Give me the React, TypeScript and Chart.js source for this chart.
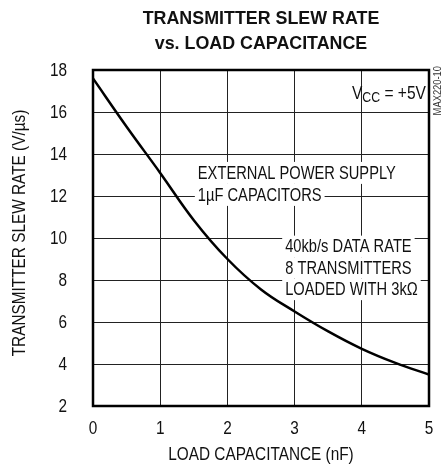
import { useEffect, useRef } from 'react';
import { Chart, registerables } from 'chart.js';

Chart.register(...registerables);

const capacitanceNF = [0, 0.5, 1, 1.5, 2, 2.5, 3, 3.5, 4, 4.5, 5];
const slewRate = [17.6, 15.3, 13.1, 10.85, 9.0, 7.55, 6.5, 5.55, 4.72, 4.05, 3.5];
const xTickValues = [0, 1, 2, 3, 4, 5];
const yTickValues = [2, 4, 6, 8, 10, 12, 14, 16, 18];
const titleLines = ['TRANSMITTER SLEW RATE', 'vs. LOAD CAPACITANCE'];
const xAxisTitle = 'LOAD CAPACITANCE (nF)';
const yAxisTitle = 'TRANSMITTER SLEW RATE (V/µs)';
const noteSupply = ['EXTERNAL POWER SUPPLY', '1µF CAPACITORS'];
const noteLoad = ['40kb/s DATA RATE', '8 TRANSMITTERS', 'LOADED WITH 3kΩ'];
const partCode = 'MAX220-10';

const FONT = "'Liberation Sans', Arial, sans-serif";
const SX = 0.83; // horizontal condensing to mimic a narrow sans face

function narrowText(
  ctx: CanvasRenderingContext2D,
  text: string,
  x: number,
  y: number,
  font: string,
  align: CanvasTextAlign,
  sx = SX,
  rotate = false,
) {
  ctx.save();
  ctx.font = font;
  ctx.textAlign = align;
  ctx.textBaseline = 'middle';
  ctx.fillStyle = '#111';
  ctx.translate(x, y);
  if (rotate) ctx.rotate(-Math.PI / 2);
  ctx.scale(sx, 1);
  ctx.fillText(text, 0, 0);
  ctx.restore();
}

function narrowWidth(ctx: CanvasRenderingContext2D, text: string, font: string, sx = SX) {
  ctx.save();
  ctx.font = font;
  const w = ctx.measureText(text).width * sx;
  ctx.restore();
  return w;
}

const textPlugin = {
  id: 'condensedText',
  afterDatasetsDraw(chart: any) {
    const { ctx, chartArea, scales } = chart;
    const xs = scales.x;
    const ys = scales.y;
    const noteFont = `17.7px ${FONT}`;

    const drawBlock = (lines: string[], xVal: number, yVal: number, gap: number) => {
      const x = xs.getPixelForValue(xVal);
      let y = ys.getPixelForValue(yVal);
      for (const line of lines) {
        const w = narrowWidth(ctx, line, noteFont);
        ctx.fillStyle = '#fff';
        ctx.fillRect(x - 3, y - gap / 2, w + 6, gap);
        narrowText(ctx, line, x, y + 1, noteFont, 'left');
        y += gap;
      }
    };
    drawBlock(noteSupply, 1.56, 13.1, 22);
    drawBlock(noteLoad, 2.86, 9.6, 21.5);

    // VCC = +5V
    const vsx = 0.88;
    const subFont = `14px ${FONT}`;
    const right = chartArea.right - 3;
    const cy = ys.getPixelForValue(16.85);
    const tail = ' = +5V';
    const tailW = narrowWidth(ctx, tail, noteFont, vsx);
    const subW = narrowWidth(ctx, 'CC', subFont, vsx);
    const vW = narrowWidth(ctx, 'V', noteFont, vsx);
    const x0 = right - tailW - subW - vW;
    narrowText(ctx, 'V', x0, cy, noteFont, 'left', vsx);
    narrowText(ctx, 'CC', x0 + vW, cy + 4, subFont, 'left', vsx);
    narrowText(ctx, tail, x0 + vW + subW, cy, noteFont, 'left', vsx);

    // plot frame
    ctx.save();
    ctx.strokeStyle = '#000';
    ctx.lineWidth = 2.5;
    ctx.strokeRect(chartArea.left, chartArea.top, chartArea.right - chartArea.left, chartArea.bottom - chartArea.top);
    ctx.restore();

    // part code, rotated
    ctx.save();
    ctx.font = `11px ${FONT}`;
    ctx.fillStyle = '#333';
    ctx.translate(chartArea.right + 9, chartArea.top - 4);
    ctx.rotate(-Math.PI / 2);
    ctx.scale(0.85, 1);
    ctx.textAlign = 'right';
    ctx.textBaseline = 'middle';
    ctx.fillText(partCode, 0, 0);
    ctx.restore();

    // tick labels from the library's scales
    const tickFont = `18.5px ${FONT}`;
    xs.ticks.forEach((t: any, i: number) => {
      narrowText(ctx, String(t.value), xs.getPixelForTick(i), chartArea.bottom + 23, tickFont, 'center');
    });
    ys.ticks.forEach((t: any, i: number) => {
      narrowText(ctx, String(t.value), chartArea.left - 26, ys.getPixelForTick(i) + 1, tickFont, 'right');
    });

    // axis titles
    narrowText(ctx, xAxisTitle, (chartArea.left + chartArea.right) / 2, 455, tickFont, 'center');
    narrowText(ctx, yAxisTitle, 20, (chartArea.top + chartArea.bottom) / 2 - 5, tickFont, 'center', SX, true);

    // chart title
    const titleFont = `bold 18.6px ${FONT}`;
    const cx = (chartArea.left + chartArea.right) / 2;
    narrowText(ctx, titleLines[0], cx, 19, titleFont, 'center', 0.96);
    narrowText(ctx, titleLines[1], cx, 44, titleFont, 'center', 0.96);
  },
};

export default function App() {
  const canvasRef = useRef<HTMLCanvasElement | null>(null);

  useEffect(() => {
    document.body.style.margin = '0';
    const canvas = canvasRef.current;
    if (!canvas) return;
    const chart = new Chart(canvas, {
      type: 'line',
      data: {
        datasets: [
          {
            data: capacitanceNF.map((x, i) => ({ x, y: slewRate[i] })),
            borderColor: '#000',
            borderWidth: 2.5,
            pointRadius: 0,
            tension: 0.4,
            fill: false,
          },
        ],
      },
      options: {
        animation: false,
        responsive: false,
        layout: { padding: { top: 70, right: 16, left: 0, bottom: 0 } },
        plugins: { legend: { display: false }, tooltip: { enabled: false }, title: { display: false } },
        scales: {
          x: {
            type: 'linear',
            min: 0,
            max: 5,
            afterBuildTicks: (s: any) => { s.ticks = xTickValues.map((v) => ({ value: v })); },
            afterFit: (s: any) => { s.height = 64; },
            grid: { color: '#222', lineWidth: 1, drawTicks: false },
            border: { display: false },
            ticks: { display: false },
          },
          y: {
            type: 'linear',
            min: 2,
            max: 18,
            afterBuildTicks: (s: any) => { s.ticks = yTickValues.map((v) => ({ value: v })); },
            afterFit: (s: any) => { s.width = 93; },
            grid: { color: '#222', lineWidth: 1, drawTicks: false },
            border: { display: false },
            ticks: { display: false },
          },
        },
      },
      plugins: [textPlugin],
    } as any);
    return () => chart.destroy();
  }, []);

  return (
    <div style={{ width: 445, height: 470 }}>
      <canvas ref={canvasRef} width={445} height={470} style={{ display: 'block' }} />
    </div>
  );
}
